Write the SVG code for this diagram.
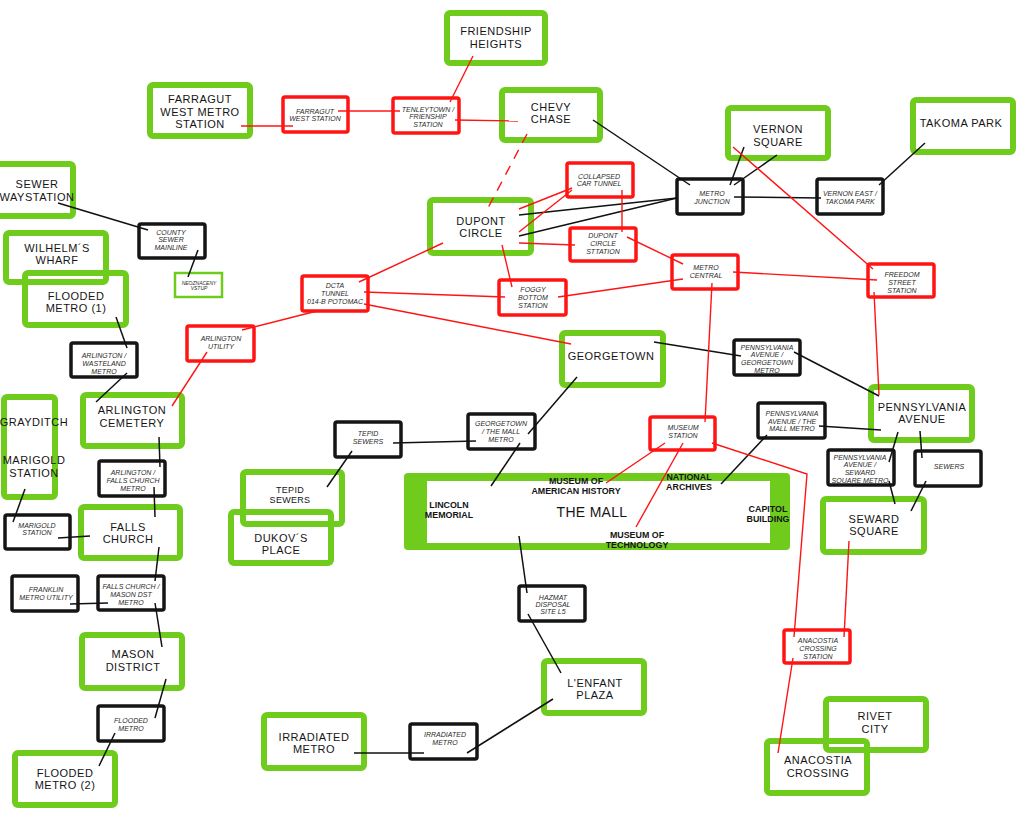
<svg xmlns="http://www.w3.org/2000/svg" width="1024" height="820" viewBox="0 0 1024 820">
<style>
.g{fill:none;stroke:#6fcc1c;stroke-width:6}
.b{fill:none;stroke:#151515;stroke-width:3.5}
.r{fill:none;stroke:#ff1414;stroke-width:3.5}
.gt{fill:none;stroke:#6fcc1c;stroke-width:2.5}
.t{font-family:"Liberation Sans",Arial,sans-serif;font-size:11px;letter-spacing:0.5px;fill:#151515;text-anchor:middle}
.t9{font-family:"Liberation Sans",Arial,sans-serif;font-size:9px;letter-spacing:0.3px;fill:#151515;text-anchor:middle}
.m{font-family:"Liberation Sans",Arial,sans-serif;font-size:8.9px;font-weight:bold;fill:#151515;text-anchor:middle}
.s{font-family:"Liberation Sans",Arial,sans-serif;font-size:7px;font-style:italic;fill:#2a2a2a;text-anchor:middle}
.lk{stroke:#111;stroke-width:1.5;fill:none}
.lr{stroke:#ff1414;stroke-width:1.4;fill:none}
</style>
<rect width="1024" height="820" fill="#fff"/>

<!-- green nodes -->
<g id="n-friendship"><rect class="g" x="447" y="13" width="98" height="50" rx="3"/><text class="t"><tspan x="496" y="35">FRIENDSHIP</tspan><tspan x="496" y="48">HEIGHTS</tspan></text></g>
<g id="n-farragut"><rect class="g" x="150" y="85" width="100" height="51" rx="3"/><text class="t"><tspan x="200" y="103">FARRAGUT</tspan><tspan x="200" y="116">WEST METRO</tspan><tspan x="200" y="128">STATION</tspan></text></g>
<g id="n-chevy"><rect class="g" x="502" y="90" width="98" height="50" rx="3"/><text class="t"><tspan x="551" y="111">CHEVY</tspan><tspan x="551" y="123">CHASE</tspan></text></g>
<g id="n-vernon"><rect class="g" x="728" y="108" width="100" height="50" rx="3"/><text class="t"><tspan x="778" y="133">VERNON</tspan><tspan x="778" y="146">SQUARE</tspan></text></g>
<g id="n-takoma"><rect class="g" x="913" y="100" width="100" height="52" rx="3"/><text class="t"><tspan x="961" y="127">TAKOMA PARK</tspan></text></g>
<g id="n-sewerway"><rect class="g" x="-4" y="164" width="77" height="52" rx="3"/><text class="t"><tspan x="37" y="188">SEWER</tspan><tspan x="37" y="201">WAYSTATION</tspan></text></g>
<g id="n-wilhelm"><rect class="g" x="6" y="233" width="100" height="49" rx="3"/><text class="t"><tspan x="57" y="252">WILHELM´S</tspan><tspan x="57" y="264">WHARF</tspan></text></g>
<g id="n-flooded1"><rect class="g" x="25" y="273" width="101" height="52" rx="3"/><text class="t"><tspan x="76" y="300">FLOODED</tspan><tspan x="76" y="312">METRO (1)</tspan></text></g>
<g id="n-arlcem"><rect class="g" x="83" y="395" width="99" height="51" rx="3"/><text class="t"><tspan x="132" y="414">ARLINGTON</tspan><tspan x="132" y="427">CEMETERY</tspan></text></g>
<g id="n-graydit"><rect class="g" x="4" y="397" width="51" height="100" rx="3"/><text class="t"><tspan x="34" y="426">GRAYDITCH</tspan><tspan x="34" y="464">MARIGOLD</tspan><tspan x="34" y="477">STATION</tspan></text></g>
<g id="n-falls"><rect class="g" x="81" y="507" width="99" height="51" rx="3"/><text class="t"><tspan x="128" y="531">FALLS</tspan><tspan x="128" y="543">CHURCH</tspan></text></g>
<g id="n-tepid"><rect class="g" x="243" y="472" width="99" height="52" rx="3"/><text class="t9"><tspan x="290" y="493">TEPID</tspan><tspan x="290" y="503">SEWERS</tspan></text></g>
<g id="n-dukov"><rect class="g" x="231" y="512" width="100" height="51" rx="3"/><text class="t"><tspan x="281" y="542">DUKOV´S</tspan><tspan x="281" y="554">PLACE</tspan></text></g>
<g id="n-mason"><rect class="g" x="82" y="635" width="100" height="53" rx="3"/><text class="t"><tspan x="133" y="658">MASON</tspan><tspan x="133" y="671">DISTRICT</tspan></text></g>
<g id="n-flooded2"><rect class="g" x="15" y="753" width="100" height="52" rx="3"/><text class="t"><tspan x="65" y="777">FLOODED</tspan><tspan x="65" y="789">METRO (2)</tspan></text></g>
<g id="n-irradiated"><rect class="g" x="264" y="715" width="100" height="53" rx="3"/><text class="t"><tspan x="314" y="741">IRRADIATED</tspan><tspan x="314" y="753">METRO</tspan></text></g>
<g id="n-lenfant"><rect class="g" x="544" y="661" width="100" height="52" rx="3"/><text class="t"><tspan x="595" y="687">L'ENFANT</tspan><tspan x="595" y="699">PLAZA</tspan></text></g>
<g id="n-rivet"><rect class="g" x="826" y="699" width="100" height="51" rx="3"/><text class="t"><tspan x="875" y="720">RIVET</tspan><tspan x="875" y="733">CITY</tspan></text></g>
<g id="n-anacostia"><rect class="g" x="767" y="741" width="100" height="52" rx="3"/><text class="t"><tspan x="818" y="764">ANACOSTIA</tspan><tspan x="818" y="777">CROSSING</tspan></text></g>
<g id="n-seward"><rect class="g" x="823" y="499" width="101" height="53" rx="3"/><text class="t"><tspan x="874" y="523">SEWARD</tspan><tspan x="874" y="535">SQUARE</tspan></text></g>
<g id="n-penn"><rect class="g" x="871" y="387" width="101" height="53" rx="3"/><text class="t"><tspan x="922" y="411">PENNSYLVANIA</tspan><tspan x="922" y="423">AVENUE</tspan></text></g>
<g id="n-georgetown"><rect class="g" x="562" y="333" width="101" height="52" rx="3"/><text class="t"><tspan x="611" y="360">GEORGETOWN</tspan></text></g>
<g id="n-dupont"><rect class="g" x="430" y="200" width="101" height="53" rx="3"/><text class="t"><tspan x="481" y="225">DUPONT</tspan><tspan x="481" y="237">CIRCLE</tspan></text></g>

<g id="n-mall">
<rect x="404" y="473" width="386" height="77" rx="4" fill="#6fcc1c"/>
<rect x="427" y="481" width="343" height="62" fill="#fff"/>
<text x="592" y="517" font-family="'Liberation Sans',Arial,sans-serif" font-size="14" letter-spacing="0.3" fill="#151515" text-anchor="middle">THE MALL</text>
<text class="m"><tspan x="449" y="508">LINCOLN</tspan><tspan x="449" y="518">MEMORIAL</tspan></text>
<text class="m"><tspan x="576" y="484">MUSEUM OF</tspan><tspan x="576" y="494">AMERICAN HISTORY</tspan></text>
<text class="m"><tspan x="689" y="480">NATIONAL</tspan><tspan x="689" y="490">ARCHIVES</tspan></text>
<text class="m"><tspan x="768" y="512">CAPITOL</tspan><tspan x="768" y="522">BUILDING</tspan></text>
<text class="m"><tspan x="637" y="538">MUSEUM OF</tspan><tspan x="637" y="548">TECHNOLOGY</tspan></text>
</g>

<!-- black small nodes -->
<g id="n-county"><rect class="b" x="139" y="224" width="66" height="34" rx="2"/><text class="s"><tspan x="171" y="234.5">COUNTY</tspan><tspan x="171" y="242">SEWER</tspan><tspan x="171" y="249.5">MAINLINE</tspan></text></g>
<g id="n-neoz"><rect class="gt" x="175" y="273" width="47" height="24"/><text class="s" style="font-size:5px"><tspan x="199" y="285">NEOZNACENY</tspan><tspan x="199" y="290">VSTUP</tspan></text></g>
<g id="n-arlwaste"><rect class="b" x="71" y="343" width="66" height="34" rx="2"/><text class="s"><tspan x="104" y="357.5">ARLINGTON /</tspan><tspan x="104" y="365.5">WASTELAND</tspan><tspan x="104" y="373.5">METRO</tspan></text></g>
<g id="n-arlfalls"><rect class="b" x="99" y="461" width="66" height="35" rx="2"/><text class="s"><tspan x="133" y="474.5">ARLINGTON /</tspan><tspan x="133" y="482.5">FALLS CHURCH</tspan><tspan x="133" y="490.5">METRO</tspan></text></g>
<g id="n-marigold"><rect class="b" x="5" y="515" width="65" height="34" rx="2"/><text class="s"><tspan x="37" y="527.5">MARIGOLD</tspan><tspan x="37" y="535">STATION</tspan></text></g>
<g id="n-franklin"><rect class="b" x="12" y="576" width="66" height="35" rx="2"/><text class="s"><tspan x="46" y="591.5">FRANKLIN</tspan><tspan x="46" y="599.5">METRO UTILITY</tspan></text></g>
<g id="n-fcmason"><rect class="b" x="98" y="576" width="66" height="34" rx="2"/><text class="s"><tspan x="131" y="588.5">FALLS CHURCH /</tspan><tspan x="131" y="596.5">MASON DST</tspan><tspan x="131" y="604.5">METRO</tspan></text></g>
<g id="n-floodsmall"><rect class="b" x="98" y="706" width="66" height="35" rx="2"/><text class="s"><tspan x="131" y="722.5">FLOODED</tspan><tspan x="131" y="730.5">METRO</tspan></text></g>
<g id="n-tepidsmall"><rect class="b" x="335" y="422" width="66" height="35" rx="2"/><text class="s"><tspan x="368" y="435.5">TEPID</tspan><tspan x="368" y="443.5">SEWERS</tspan></text></g>
<g id="n-gtmall"><rect class="b" x="468" y="414" width="67" height="35" rx="2"/><text class="s"><tspan x="501" y="425.5">GEORGETOWN</tspan><tspan x="501" y="433.5">/ THE MALL</tspan><tspan x="501" y="441.5">METRO</tspan></text></g>
<g id="n-hazmat"><rect class="b" x="519" y="586" width="66" height="35" rx="2"/><text class="s"><tspan x="553" y="599.5">HAZMAT</tspan><tspan x="553" y="606.8">DISPOSAL</tspan><tspan x="553" y="614.2">SITE L5</tspan></text></g>
<g id="n-irrsmall"><rect class="b" x="410" y="724" width="67" height="35" rx="2"/><text class="s"><tspan x="445" y="736.5">IRRADIATED</tspan><tspan x="445" y="744.5">METRO</tspan></text></g>
<g id="n-junction"><rect class="b" x="677" y="179" width="66" height="35" rx="2"/><text class="s"><tspan x="712" y="195.5">METRO</tspan><tspan x="712" y="203.5">JUNCTION</tspan></text></g>
<g id="n-vernoneast"><rect class="b" x="817" y="179" width="66" height="35" rx="2"/><text class="s"><tspan x="850" y="195.5">VERNON EAST /</tspan><tspan x="850" y="203.5">TAKOMA PARK</tspan></text></g>
<g id="n-penngt"><rect class="b" x="734" y="340" width="66" height="35" rx="2"/><text class="s"><tspan x="767" y="349.5">PENNSYLVANIA</tspan><tspan x="767" y="357.3">AVENUE /</tspan><tspan x="767" y="365">GEORGETOWN</tspan><tspan x="767" y="372.7">METRO</tspan></text></g>
<g id="n-pennmall"><rect class="b" x="758" y="403" width="67" height="35" rx="2"/><text class="s"><tspan x="792" y="415.5">PENNSYLVANIA</tspan><tspan x="792" y="423.5">AVENUE / THE</tspan><tspan x="792" y="431">MALL METRO</tspan></text></g>
<g id="n-pennseward"><rect class="b" x="828" y="450" width="66" height="35" rx="2"/><text class="s"><tspan x="860" y="459.5">PENNSYLVANIA</tspan><tspan x="860" y="467.3">AVENUE /</tspan><tspan x="860" y="475">SEWARD</tspan><tspan x="860" y="482.7">SQUARE METRO</tspan></text></g>
<g id="n-sewers"><rect class="b" x="915" y="451" width="66" height="35" rx="2"/><text class="s"><tspan x="949" y="468.5">SEWERS</tspan></text></g>

<!-- red small nodes -->
<g id="n-farrst"><rect class="r" x="283" y="97" width="65" height="35" rx="2"/><text class="s"><tspan x="315" y="113.5">FARRAGUT</tspan><tspan x="315" y="120.8">WEST STATION</tspan></text></g>
<g id="n-tenley"><rect class="r" x="393" y="98" width="66" height="35" rx="2"/><text class="s"><tspan x="428" y="111.5">TENLEYTOWN /</tspan><tspan x="428" y="118.8">FRIENSHIP</tspan><tspan x="428" y="126.5">STATION</tspan></text></g>
<g id="n-collapsed"><rect class="r" x="567" y="163" width="66" height="34" rx="2"/><text class="s"><tspan x="599" y="178.5">COLLAPSED</tspan><tspan x="599" y="186">CAR TUNNEL</tspan></text></g>
<g id="n-dupontst"><rect class="r" x="570" y="228" width="66" height="33" rx="2"/><text class="s"><tspan x="603" y="237.5">DUPONT</tspan><tspan x="603" y="245.5">CIRCLE</tspan><tspan x="603" y="253.5">STTATION</tspan></text></g>
<g id="n-central"><rect class="r" x="672" y="255" width="66" height="34" rx="2"/><text class="s"><tspan x="706" y="269.5">METRO</tspan><tspan x="706" y="277.5">CENTRAL</tspan></text></g>
<g id="n-freedom"><rect class="r" x="868" y="264" width="66" height="33" rx="2"/><text class="s"><tspan x="902" y="276.5">FREEDOM</tspan><tspan x="902" y="284.5">STREET</tspan><tspan x="902" y="292.5">STATION</tspan></text></g>
<g id="n-dcta"><rect class="r" x="302" y="276" width="66" height="35" rx="2"/><text class="s"><tspan x="335" y="287.5">DCTA</tspan><tspan x="335" y="295.5">TUNNEL</tspan><tspan x="335" y="303.5">014-B POTOMAC</tspan></text></g>
<g id="n-foggy"><rect class="r" x="499" y="280" width="67" height="35" rx="2"/><text class="s"><tspan x="533" y="291.5">FOGGY</tspan><tspan x="533" y="299.5">BOTTOM</tspan><tspan x="533" y="307.5">STATION</tspan></text></g>
<g id="n-arlutil"><rect class="r" x="187" y="326" width="67" height="35" rx="2"/><text class="s"><tspan x="221" y="340.5">ARLINGTON</tspan><tspan x="221" y="348.5">UTILITY</tspan></text></g>
<g id="n-museumst"><rect class="r" x="650" y="417" width="65" height="33" rx="2"/><text class="s"><tspan x="683" y="429.5">MUSEUM</tspan><tspan x="683" y="437.5">STATION</tspan></text></g>
<g id="n-anacst"><rect class="r" x="784" y="630" width="66" height="33" rx="2"/><text class="s"><tspan x="818" y="642.5">ANACOSTIA</tspan><tspan x="818" y="650.5">CROSSING</tspan><tspan x="818" y="658.5">STATION</tspan></text></g>

<!-- connectors -->
<g id="connectors">
<g class="lk">
<line x1="58" y1="203" x2="148" y2="230"/>
<line x1="198" y1="250" x2="188" y2="277"/>
<line x1="116" y1="317" x2="127" y2="348"/>
<line x1="127" y1="373" x2="96" y2="402"/>
<line x1="159" y1="437" x2="160" y2="467"/>
<line x1="154" y1="487" x2="155" y2="517"/>
<line x1="25" y1="489" x2="13" y2="522"/>
<line x1="58" y1="538" x2="90" y2="536"/>
<line x1="159" y1="547" x2="155" y2="581"/>
<line x1="70" y1="604" x2="108" y2="603"/>
<line x1="155" y1="603" x2="162" y2="647"/>
<line x1="166" y1="679" x2="155" y2="718"/>
<line x1="115" y1="733" x2="99" y2="766"/>
<line x1="327" y1="487" x2="352" y2="451"/>
<line x1="393" y1="443" x2="476" y2="441"/>
<line x1="528" y1="434" x2="577" y2="377"/>
<line x1="520" y1="443" x2="491" y2="486"/>
<line x1="519" y1="536" x2="527" y2="593"/>
<line x1="528" y1="614" x2="561" y2="673"/>
<line x1="553" y1="699" x2="467" y2="753"/>
<line x1="354" y1="753" x2="424" y2="753"/>
<line x1="654" y1="342" x2="741" y2="356"/>
<line x1="794" y1="352" x2="879" y2="396"/>
<line x1="819" y1="426" x2="881" y2="430"/>
<line x1="767" y1="435" x2="721" y2="484"/>
<line x1="898" y1="432" x2="889" y2="462"/>
<line x1="920" y1="431" x2="922" y2="458"/>
<line x1="889" y1="481" x2="895" y2="504"/>
<line x1="926" y1="481" x2="911" y2="511"/>
<line x1="593" y1="120" x2="690" y2="185"/>
<line x1="519" y1="215" x2="677" y2="198"/>
<line x1="519" y1="236" x2="677" y2="198"/>
<line x1="744" y1="147" x2="730" y2="185"/>
<line x1="777" y1="155" x2="734" y2="185"/>
<line x1="734" y1="197" x2="821" y2="198"/>
<line x1="925" y1="143" x2="879" y2="185"/>
</g>
<g class="lr">
<line x1="241" y1="126" x2="293" y2="126"/>
<line x1="338" y1="111" x2="400" y2="111"/>
<line x1="450" y1="102" x2="473" y2="56"/>
<line x1="455" y1="120" x2="518" y2="121"/>
<line x1="527" y1="134" x2="488" y2="208" stroke-dasharray="10 8"/>
<line x1="519" y1="209" x2="572" y2="188"/>
<line x1="519" y1="232" x2="572" y2="190"/>
<line x1="519" y1="243" x2="575" y2="245"/>
<line x1="622" y1="190" x2="622" y2="232"/>
<line x1="627" y1="237" x2="683" y2="264"/>
<line x1="443" y1="243" x2="359" y2="282"/>
<line x1="502" y1="245" x2="512" y2="287"/>
<line x1="364" y1="292" x2="505" y2="297"/>
<line x1="558" y1="297" x2="683" y2="279"/>
<line x1="364" y1="304" x2="571" y2="344"/>
<line x1="317" y1="311" x2="242" y2="330"/>
<line x1="207" y1="352" x2="172" y2="406"/>
<line x1="733" y1="272" x2="877" y2="280"/>
<line x1="733" y1="147" x2="873" y2="269"/>
<line x1="712" y1="283" x2="705" y2="422"/>
<line x1="874" y1="292" x2="879" y2="395"/>
<line x1="665" y1="443" x2="606" y2="483"/>
<line x1="683" y1="443" x2="636" y2="527"/>
<polyline points="712,443 807,474 794,637"/>
<line x1="849" y1="541" x2="844" y2="637"/>
<line x1="793" y1="658" x2="778" y2="753"/>
</g>
</g>
</svg>
